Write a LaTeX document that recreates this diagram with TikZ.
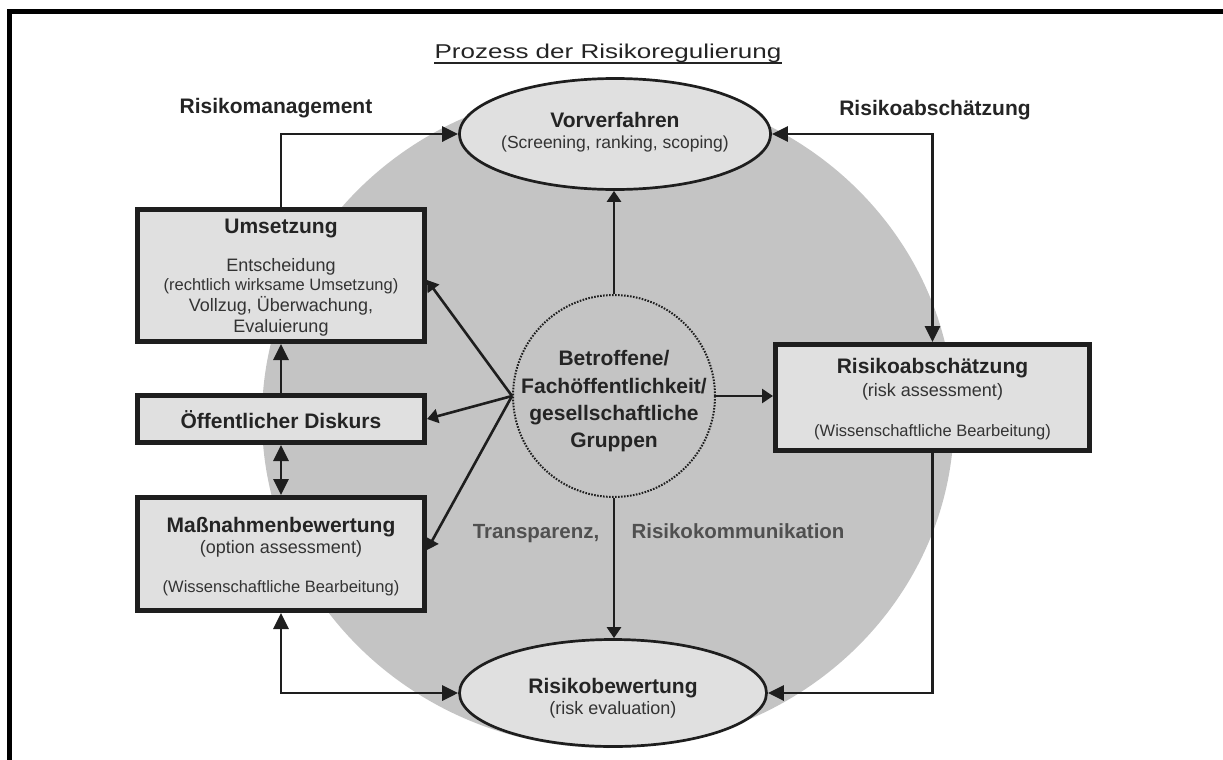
\documentclass[tikz,border=0pt]{standalone}
\usepackage{graphicx}
\usepackage{fontspec}
\setmainfont{Liberation Sans}
\usetikzlibrary{arrows.meta,shapes.geometric}

\definecolor{disc}{HTML}{C4C4C4}
\definecolor{panel}{HTML}{E0E0E0}
\definecolor{ink}{HTML}{1E1E1E}
\definecolor{inktext}{HTML}{242424}
\definecolor{softtext}{HTML}{333333}
\definecolor{noteink}{HTML}{505050}

\begin{document}
\begin{tikzpicture}[x=1pt,y=-1pt,
  panelbox/.style={draw=ink, line width=5pt, fill=panel, inner sep=0pt},
  oval/.style={ellipse, draw=ink, line width=2.7pt, fill=panel, inner sep=0pt},
  hubring/.style={circle, draw=ink, line width=2pt, dash pattern=on 1.6pt off 1.4pt, inner sep=0pt},
  link/.style={draw=ink, line width=2.9pt, -{Triangle[length=16pt,width=15pt]}},
  bilink/.style={draw=ink, line width=2.9pt, {Triangle[length=16pt,width=15pt]}-{Triangle[length=16pt,width=15pt]}},
  spoke/.style={draw=ink, line width=2.6pt, -{Triangle[length=11pt,width=14pt]}},
  head/.style={font=\fontsize{21}{21}\selectfont\bfseries, text=inktext, anchor=base, inner sep=0pt},
  sub/.style={font=\fontsize{18}{18}\selectfont, text=softtext, anchor=base, inner sep=0pt},
  subnarrow/.style={font=\fontsize{17.5}{17.5}\selectfont, text=softtext, anchor=base, inner sep=0pt},
  small/.style={font=\fontsize{16.5}{16.5}\selectfont, text=softtext, anchor=base, inner sep=0pt},
  note/.style={font=\fontsize{20.5}{20.5}\selectfont\bfseries, text=noteink, anchor=base, inner sep=0pt}
]
\useasboundingbox (0,0) rectangle (1223,760);

% page frame (top and left rules)
\draw[line width=4.7pt, black] (1223,11.7) -- (9.7,11.7) -- (9.7,760);

% shaded background disc
\fill[disc] (608,418) ellipse [x radius=346, y radius=330];

% title
\node[anchor=base, font=\fontsize{20}{20}\selectfont, text=inktext, inner sep=0pt] (title) at (608,59)
  {\scalebox{1.3}[1]{Prozess der Risikoregulierung}};
\draw[line width=2pt, inktext] ([yshift=-3.8pt]title.base west) -- ([yshift=-3.8pt]title.base east);

% side headings
\node[head] (mgmt) at (276,113) {Risikomanagement};
\node[head] (assess) at (935,115) {Risikoabschätzung};

% process stations
\node[oval, minimum width=311pt, minimum height=111pt] (vor) at (615,134) {};
\node[oval, minimum width=307pt, minimum height=107pt] (bew) at (613,693) {};
\node[panelbox, minimum width=287pt, minimum height=132pt] (ums) at (281,275.5) {};
\node[panelbox, minimum width=287pt, minimum height=47pt] (dis) at (281,419) {};
\node[panelbox, minimum width=287pt, minimum height=113pt] (mass) at (281,554) {};
\node[panelbox, minimum width=314pt, minimum height=106pt] (rab) at (932.5,397.5) {};
\node[hubring, minimum size=202pt] (hub) at (614,396) {};

% station texts
\node[head] (vorT) at (615,127) {Vorverfahren};
\node[subnarrow] (vorA) at (615,148) {(Screening, ranking, scoping)};

\node[head] (bewT) at (613,693) {Risikobewertung};
\node[sub] (bewA) at (613,714) {(risk evaluation)};

\node[head] (umsT) at (281,233) {Umsetzung};
\node[sub] (umsA) at (281,271) {Entscheidung};
\node[small] (umsB) at (281,290) {(rechtlich wirksame Umsetzung)};
\node[sub] (umsC) at (281,311) {Vollzug, Überwachung,};
\node[sub] (umsD) at (281,332) {Evaluierung};

\node[head] (disT) at (281,428) {Öffentlicher Diskurs};

\node[head] (massT) at (281,532) {Maßnahmenbewertung};
\node[sub] (massA) at (281,553) {(option assessment)};
\node[small] (massB) at (281,592) {(Wissenschaftliche Bearbeitung)};

\node[head] (rabT) at (932.5,373) {Risikoabschätzung};
\node[sub] (rabA) at (932.5,396) {(risk assessment)};
\node[small] (rabB) at (932.5,436) {(Wissenschaftliche Bearbeitung)};

\node[head] (hubA) at (614,365) {Betroffene/};
\node[head] (hubB) at (614,393) {Fachöffentlichkeit/};
\node[head] (hubC) at (614,420) {gesellschaftliche};
\node[head] (hubD) at (614,447) {Gruppen};

\node[note] (transp) at (536,538) {Transparenz,};
\node[note] (komm) at (738,538) {Risikokommunikation};

% outer cycle
\draw[link] (ums.north) |- (vor.west);
\draw[bilink] (vor.east) -| (rab.north);
\draw[link] (rab.south) |- (bew.east);
\draw[bilink] (mass.south) |- (bew.west);
\draw[link] (dis.north) -- (ums.south);
\draw[bilink] (dis.south) -- (mass.north);

% spokes from the stakeholder hub
\draw[spoke] (hub.north) -- (hub.north |- vor.south);
\draw[spoke] (hub.south) -- (hub.south |- bew.north);
\draw[spoke] (hub.east) -- (hub.east -| rab.west);
\draw[spoke] (hub.west) -- ([yshift=-4.5pt]ums.east);
\draw[spoke] (hub.west) -- (dis.east);
\draw[spoke] (hub.west) -- ([yshift=4pt]mass.east);
\end{tikzpicture}
\end{document}
